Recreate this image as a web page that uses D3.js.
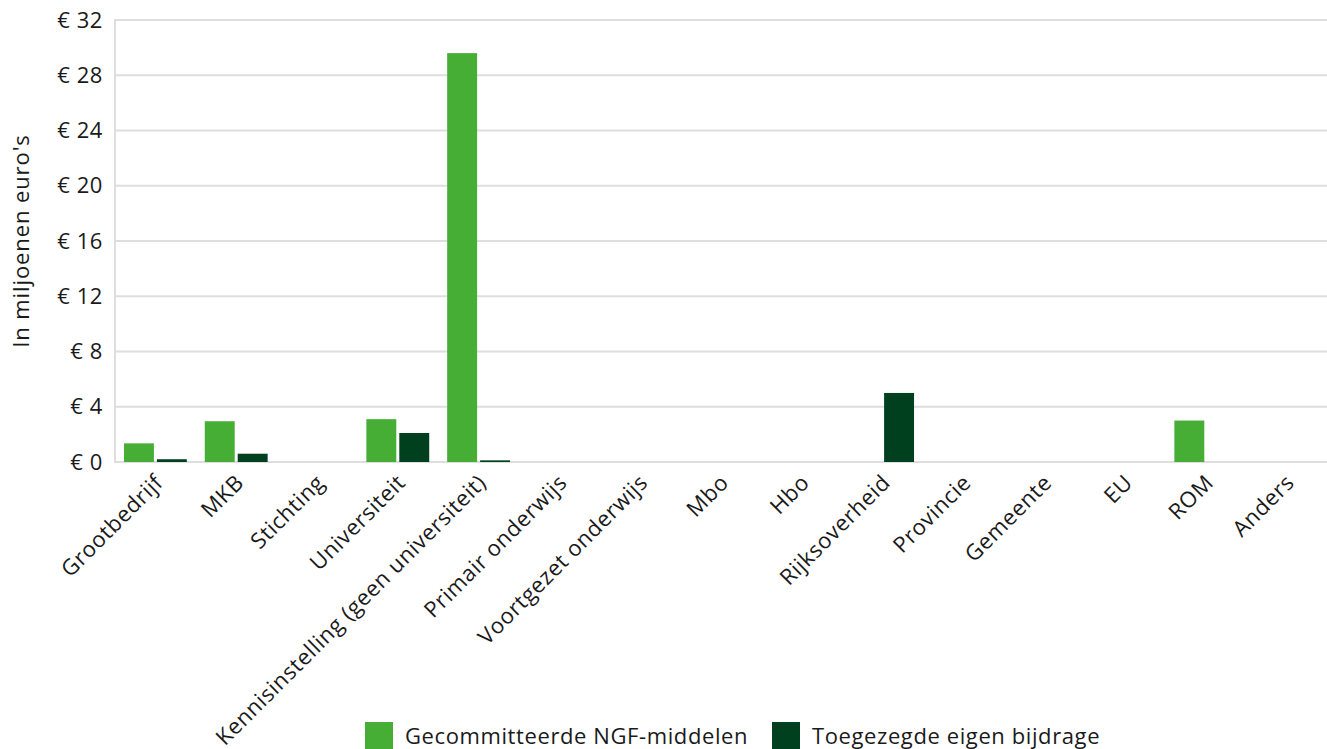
<!DOCTYPE html>
<html>
<head>
<meta charset="utf-8">
<script src="https://cdn.jsdelivr.net/npm/d3@7"></script>
<style>
  html, body { margin: 0; padding: 0; background: #fff; }
  svg { display: block; }
  svg text { font-family: "Open Sans", "Noto Sans", sans-serif; letter-spacing: 0.6px; fill: #1a1a1a; }
</style>
</head>
<body>
<svg id="chart" width="1327" height="749"></svg>
<script>
const categories = ["Grootbedrijf", "MKB", "Stichting", "Universiteit", "Kennisinstelling (geen universiteit)", "Primair onderwijs", "Voortgezet onderwijs", "Mbo", "Hbo", "Rijksoverheid", "Provincie", "Gemeente", "EU", "ROM", "Anders"];
const seriesNames = ["Gecommitteerde NGF-middelen", "Toegezegde eigen bijdrage"];
const ngfValues = [1.35, 2.95, 0, 3.1, 29.6, 0, 0, 0, 0, 0, 0, 0, 0, 3.0, 0];
const eigenValues = [0.2, 0.6, 0, 2.1, 0.12, 0, 0, 0, 0, 5.0, 0, 0, 0, 0, 0];
const yTicks = [0, 4, 8, 12, 16, 20, 24, 28, 32];
const yTitle = "In miljoenen euro's";
const colors = ["#46ad35", "#00401f"];

const svg = d3.select("#chart");
const W = 1327, H = 749;
const m = { left: 115, right: 0, top: 20, bottom: 287 };
const x0 = d3.scaleBand().domain(categories).range([m.left, W - m.right]).padding(0);
const x1 = d3.scaleBand().domain(seriesNames)
  .range([x0.bandwidth() * 0.111, x0.bandwidth() * 0.889]).paddingInner(0.0909);
const y = d3.scaleLinear().domain([0, 32]).range([H - m.bottom, m.top]);

const font = 22;

// grid
const grid = svg.append("g");
grid.selectAll("line").data(yTicks).join("line")
  .attr("x1", m.left).attr("x2", W - m.right)
  .attr("y1", d => y(d)).attr("y2", d => y(d))
  .attr("stroke", "#dedede").attr("stroke-width", 2);
grid.append("line").attr("x1", m.left).attr("x2", m.left)
  .attr("y1", y(32) - 1).attr("y2", y(0) + 1)
  .attr("stroke", "#dedede").attr("stroke-width", 2);

// y axis
const yAxis = svg.append("g").attr("transform", `translate(${m.left},0)`)
  .call(d3.axisLeft(y).tickValues(yTicks).tickSize(0).tickPadding(12).tickFormat(d => "€ " + d));
yAxis.select(".domain").remove();
yAxis.attr("font-family", null).attr("font-size", null);
yAxis.selectAll("text").attr("font-size", font);

svg.append("text").attr("transform", `translate(29,${(y(0) + y(32)) / 2}) rotate(-90)`)
  .attr("text-anchor", "middle").attr("font-size", font).style("letter-spacing", "0.9px").text(yTitle);

// bars
const data = categories.map((c, i) => ({ c, vals: [ngfValues[i], eigenValues[i]] }));
const groups = svg.append("g").selectAll("g").data(data).join("g")
  .attr("transform", d => `translate(${x0(d.c)},0)`);
groups.selectAll("rect").data(d => d.vals.map((v, k) => ({ k, v }))).join("rect")
  .attr("x", d => x1(seriesNames[d.k])).attr("width", x1.bandwidth())
  .attr("y", d => y(d.v)).attr("height", d => y(0) - y(d.v))
  .attr("fill", d => colors[d.k]);

// x axis labels
const xAxis = svg.append("g").attr("transform", `translate(0,${y(0)})`)
  .call(d3.axisBottom(x0).tickSize(0).tickPadding(0));
xAxis.select(".domain").remove();
xAxis.attr("font-family", null).attr("font-size", null);
xAxis.selectAll("text")
  .attr("font-size", font)
  .attr("text-anchor", "end")
  .attr("dy", null).attr("y", 0)
  .attr("transform", "translate(9,22) rotate(-45)");

// legend
const legend = svg.append("g");
const legX = [365, 772];
seriesNames.forEach((s, k) => {
  legend.append("rect").attr("x", legX[k]).attr("y", 722).attr("width", 28).attr("height", 28).attr("fill", colors[k]);
  legend.append("text").attr("x", legX[k] + 40).attr("y", 744).attr("font-size", font).text(s);
});
</script>
</body>
</html>
